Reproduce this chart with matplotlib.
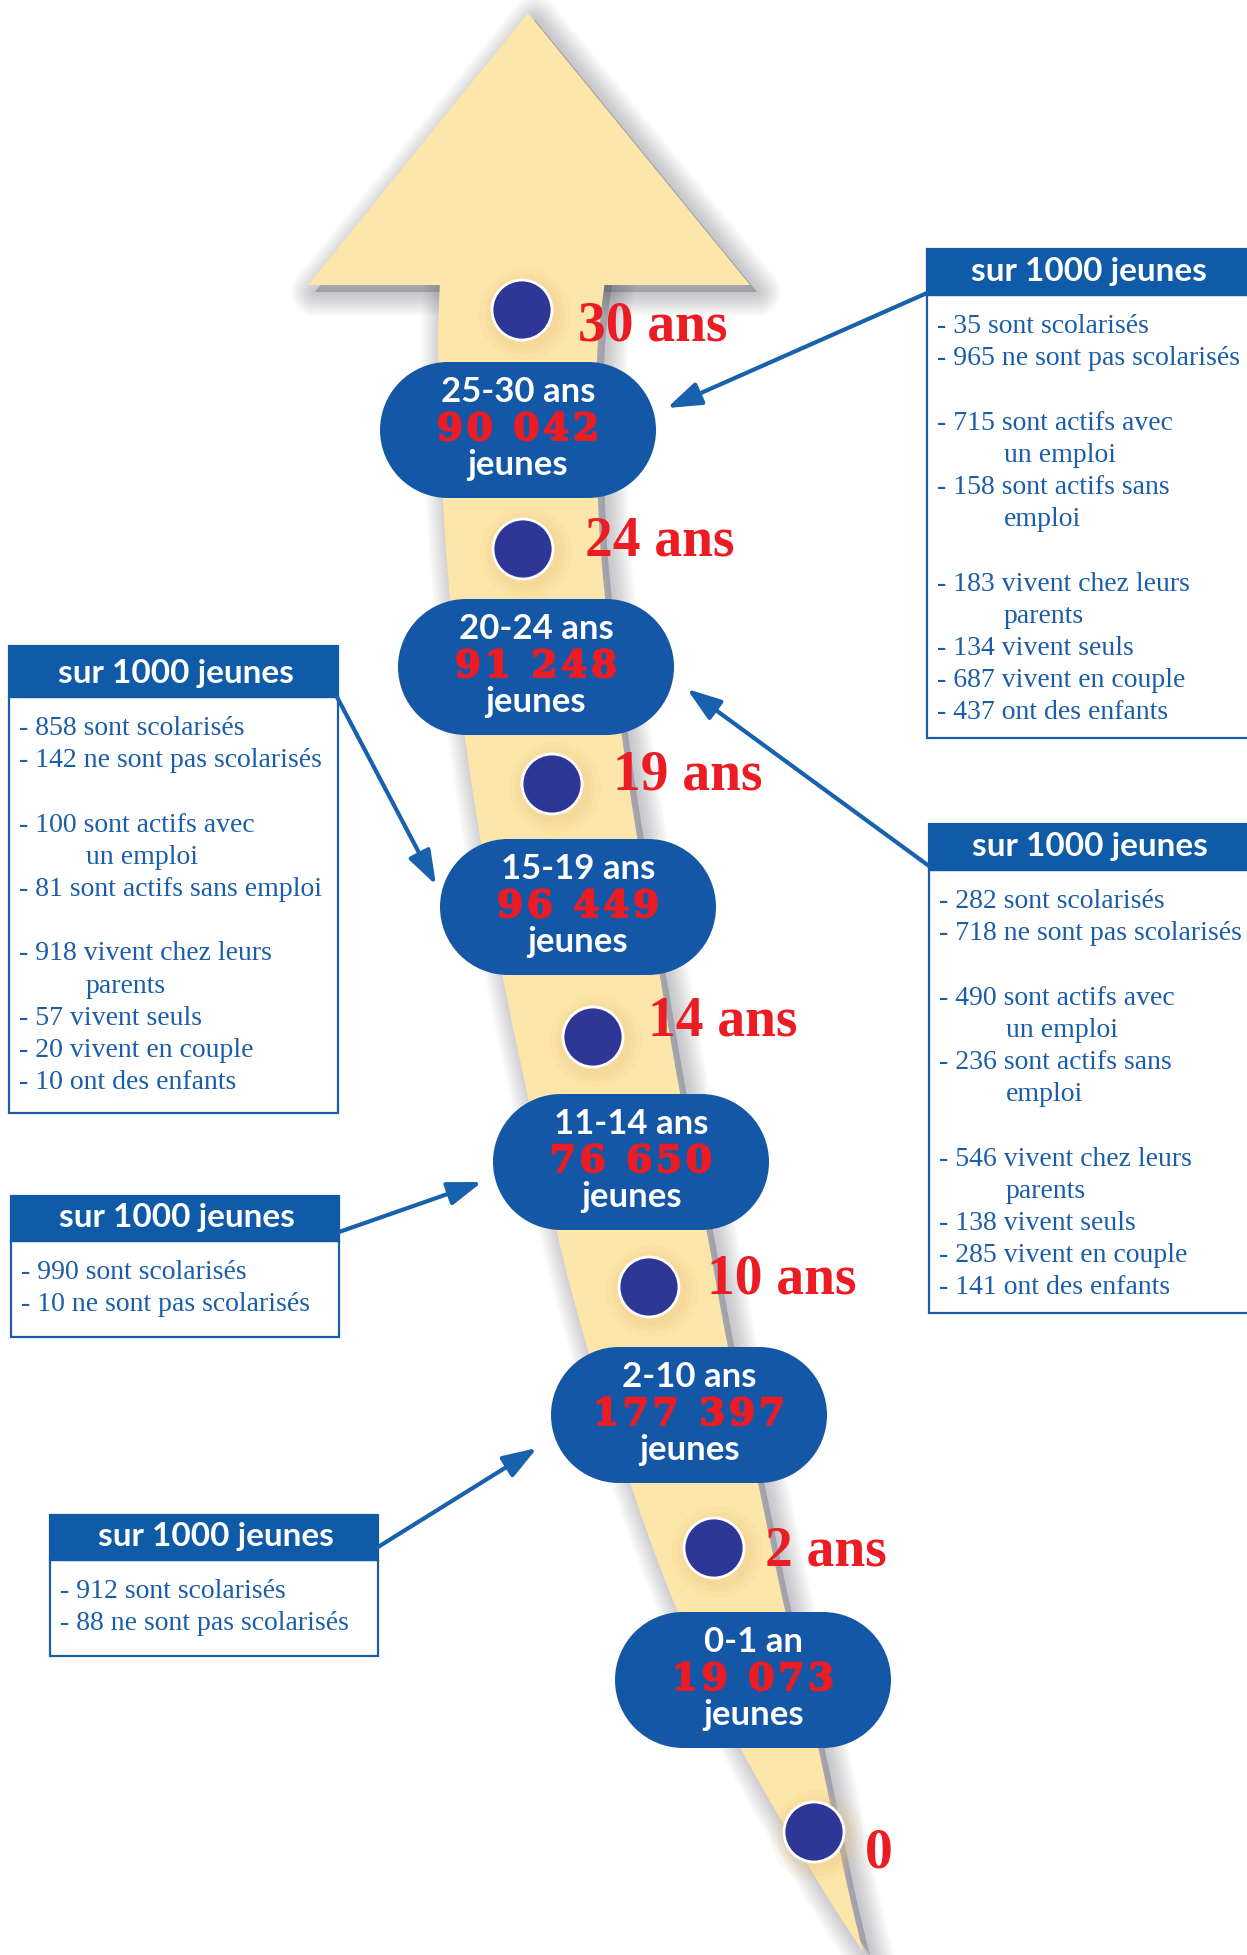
import numpy as np
import matplotlib
matplotlib.use("Agg")
import matplotlib.pyplot as plt
import matplotlib.patheffects as pe
from matplotlib.patches import Polygon, Circle, Rectangle, FancyArrowPatch, ArrowStyle

# ---------------- data ----------------
age_groups = ["25-30 ans", "20-24 ans", "15-19 ans", "11-14 ans", "2-10 ans", "0-1 an"]
group_counts = [90042, 91248, 96449, 76650, 177397, 19073]
unit_label = "jeunes"
milestones = ["30 ans", "24 ans", "19 ans", "14 ans", "10 ans", "2 ans", "0"]

box_title = "sur 1000 jeunes"
stat_labels = ["sont scolarisés", "ne sont pas scolarisés",
               "sont actifs avec", "sont actifs sans",
               "vivent chez leurs", "vivent seuls", "vivent en couple", "ont des enfants"]
stat_label_rest = ["", "", "un emploi", "emploi", "parents", "", "", ""]
stats_25_30 = [35, 965, 715, 158, 183, 134, 687, 437]
stats_20_24 = [282, 718, 490, 236, 546, 138, 285, 141]
stats_15_19 = [858, 142, 100, 81, 918, 57, 20, 10]
stats_11_14 = [990, 10]
stats_2_10 = [912, 88]

# ---------------- layout (pixels) ----------------
W, H = 1247, 1955
YELLOW = "#FDE6A9"
NAVY = "#2E3796"
RED = "#EC1C24"
PILL = "#1457A6"
HEAD = "#0F5BA8"
TXT = "#1B5DA8"

shaft_left = [(440, 280), (438, 360), (443, 500), (450, 597), (465, 737), (480, 837),
              (503, 977), (527, 1093), (557, 1233), (587, 1347), (630, 1483),
              (677, 1610), (740, 1747), (817, 1880), (863, 1952)]
shaft_right = [(605, 280), (597, 360), (598, 500), (605, 597), (622, 737), (637, 837),
               (660, 977), (680, 1093), (707, 1233), (728, 1347), (758, 1483),
               (785, 1610), (818, 1747), (846, 1880), (863, 1952)]
head_tri = [(528, 13), (308, 285), (750, 285)]

dot_pos = [(522, 310), (523, 549), (552, 784), (593, 1037), (649, 1287), (714, 1548), (814, 1832)]
dot_r = 30
label_pos = [(578, 340), (585, 556), (613, 789), (648, 1036), (707, 1293), (765, 1565), (865, 1867)]
pill_centers = [(518, 430), (536, 667), (578, 907), (631, 1162), (689, 1415), (753, 1680)]
pill_w, pill_h = 276, 136

boxes = [
    dict(stats=stats_25_30, x0=927, x1=1265, htop=249, hbot=295, bbot=738,
         arrow=((927, 293), (667, 408)), nowrap=set()),
    dict(stats=stats_15_19, x0=9, x1=338, htop=646, hbot=697, bbot=1113,
         arrow=((337, 697), (436, 885)), nowrap={3}),
    dict(stats=stats_20_24, x0=929, x1=1265, htop=824, hbot=870, bbot=1313,
         arrow=((929, 866), (687, 689)), nowrap=set()),
    dict(stats=stats_11_14, x0=11, x1=339, htop=1196, hbot=1241, bbot=1337,
         arrow=((339, 1232), (482, 1182)), nowrap=set()),
    dict(stats=stats_2_10, x0=50, x1=378, htop=1515, hbot=1560, bbot=1656,
         arrow=((378, 1547), (537, 1448)), nowrap=set()),
]
groups = [[0, 1], [2, 3], [4, 5, 6, 7]]
line_step = 32.2


def catmull(points, n=14):
    P = np.array(points, float)
    P = np.vstack([P[0], P, P[-1]])
    out = []
    for i in range(1, len(P) - 2):
        p0, p1, p2, p3 = P[i - 1], P[i], P[i + 1], P[i + 2]
        for t in np.linspace(0, 1, n, endpoint=False):
            t2, t3 = t * t, t * t * t
            out.append(0.5 * ((2 * p1) + (-p0 + p2) * t + (2 * p0 - 5 * p1 + 4 * p2 - p3) * t2
                              + (-p0 + 3 * p1 - 3 * p2 + p3) * t3))
    out.append(P[-2])
    return np.array(out)


fig = plt.figure(figsize=(W / 100, H / 100), dpi=100)
ax = fig.add_axes([0, 0, 1, 1])
ax.set_xlim(0, W)
ax.set_ylim(H, 0)
ax.axis("off")

shaft = np.vstack([catmull(shaft_left), catmull(shaft_right)[::-1]])
tri = np.array(head_tri, float)


def soft_shadow(pts, off, z):
    for lw in np.linspace(34, 4, 14):
        ax.add_patch(Polygon(pts + np.array(off), closed=True,
                             facecolor=(0.32, 0.32, 0.38, 0.022),
                             edgecolor=(0.32, 0.32, 0.38, 0.022),
                             linewidth=lw, joinstyle="round", zorder=z))


soft_shadow(shaft, (7, 4), 1)
soft_shadow(tri, (7, 7), 1)
ax.add_patch(Polygon(shaft, closed=True, facecolor=YELLOW, edgecolor="none", zorder=2))
ax.add_patch(Polygon(tri, closed=True, facecolor=YELLOW, edgecolor="none", zorder=3))

# dots and milestone labels
for (x, y), (lx, ly), lab in zip(dot_pos, label_pos, milestones):
    for rr, a in [(46, 0.10), (40, 0.12), (35, 0.15)]:
        ax.add_patch(Circle((x + 3, y + 4), rr, facecolor="#E9C37F", edgecolor="none",
                            alpha=a, zorder=4))
    ax.add_patch(Circle((x, y), dot_r, facecolor=NAVY, edgecolor="white",
                        linewidth=2.0, zorder=5))
    ax.text(lx, ly, lab, fontsize=40, fontweight="bold", family="Liberation Serif",
            color=RED, ha="left", va="baseline", zorder=8)

# pills
for (cx, cy), grp, n in zip(pill_centers, age_groups, group_counts):
    ax.add_patch(Rectangle((cx - pill_w / 2 + pill_h / 2, cy - pill_h / 2),
                           pill_w - pill_h, pill_h, facecolor=PILL, edgecolor="none", zorder=6))
    for sx in (-1, 1):
        ax.add_patch(Circle((cx + sx * (pill_w / 2 - pill_h / 2), cy), pill_h / 2,
                            facecolor=PILL, edgecolor="none", zorder=6))
    num = f"{n:,}".replace(",", " ")
    num = "\u200a".join(list(num))
    ax.text(cx, cy - 28, grp, fontsize=25, fontweight="bold", family="Lato",
            color="white", ha="center", va="baseline", zorder=8)
    ax.text(cx, cy + 10, num, fontsize=27, fontweight="bold",
            family=["DejaVu Serif", "DejaVu Sans"],
            color=RED, ha="center", va="baseline", zorder=8,
            path_effects=[pe.withStroke(linewidth=1.3, foreground=RED)])
    ax.text(cx, cy + 45, unit_label, fontsize=25, fontweight="bold", family="Lato",
            color="white", ha="center", va="baseline", zorder=8)

# info boxes
arrow_style = ArrowStyle("-|>", head_length=1.3, head_width=0.45)
for b in boxes:
    x0, x1 = b["x0"], b["x1"]
    ax.add_patch(Rectangle((x0, b["hbot"]), x1 - x0, b["bbot"] - b["hbot"],
                           facecolor="white", edgecolor=TXT, linewidth=1.6, zorder=6))
    ax.add_patch(Rectangle((x0, b["htop"]), x1 - x0, b["hbot"] - b["htop"],
                           facecolor=HEAD, edgecolor=HEAD, linewidth=1.6, zorder=6))
    hx = (x0 + min(x1, W)) / 2 + 2
    ax.text(hx, b["hbot"] - 14, box_title, fontsize=24, fontweight="bold", family="Lato",
            color="white", ha="center", va="baseline", zorder=8)
    y = b["hbot"] + 38
    stats = b["stats"]
    first = True
    for g in groups:
        idx = [i for i in g if i < len(stats)]
        if not idx:
            continue
        if not first:
            y += line_step
        first = False
        for i in idx:
            if stat_label_rest[i] and i in b["nowrap"]:
                ax.text(x0 + 10, y, f"- {stats[i]} {stat_labels[i]} {stat_label_rest[i]}",
                        fontsize=20, family="Liberation Serif", color=TXT,
                        ha="left", va="baseline", zorder=8)
                y += line_step
            else:
                ax.text(x0 + 10, y, f"- {stats[i]} {stat_labels[i]}",
                        fontsize=20, family="Liberation Serif", color=TXT,
                        ha="left", va="baseline", zorder=8)
                y += line_step
                if stat_label_rest[i]:
                    ax.text(x0 + 77, y, stat_label_rest[i],
                            fontsize=20, family="Liberation Serif", color=TXT,
                            ha="left", va="baseline", zorder=8)
                    y += line_step
    (sx, sy), (ex, ey) = b["arrow"]
    ax.add_patch(FancyArrowPatch((sx, sy), (ex, ey), arrowstyle=arrow_style,
                                 mutation_scale=16, linewidth=3.0, color="#1861AC",
                                 shrinkA=0, shrinkB=0, zorder=7))

fig.savefig("out.png", dpi=100, facecolor="white")
